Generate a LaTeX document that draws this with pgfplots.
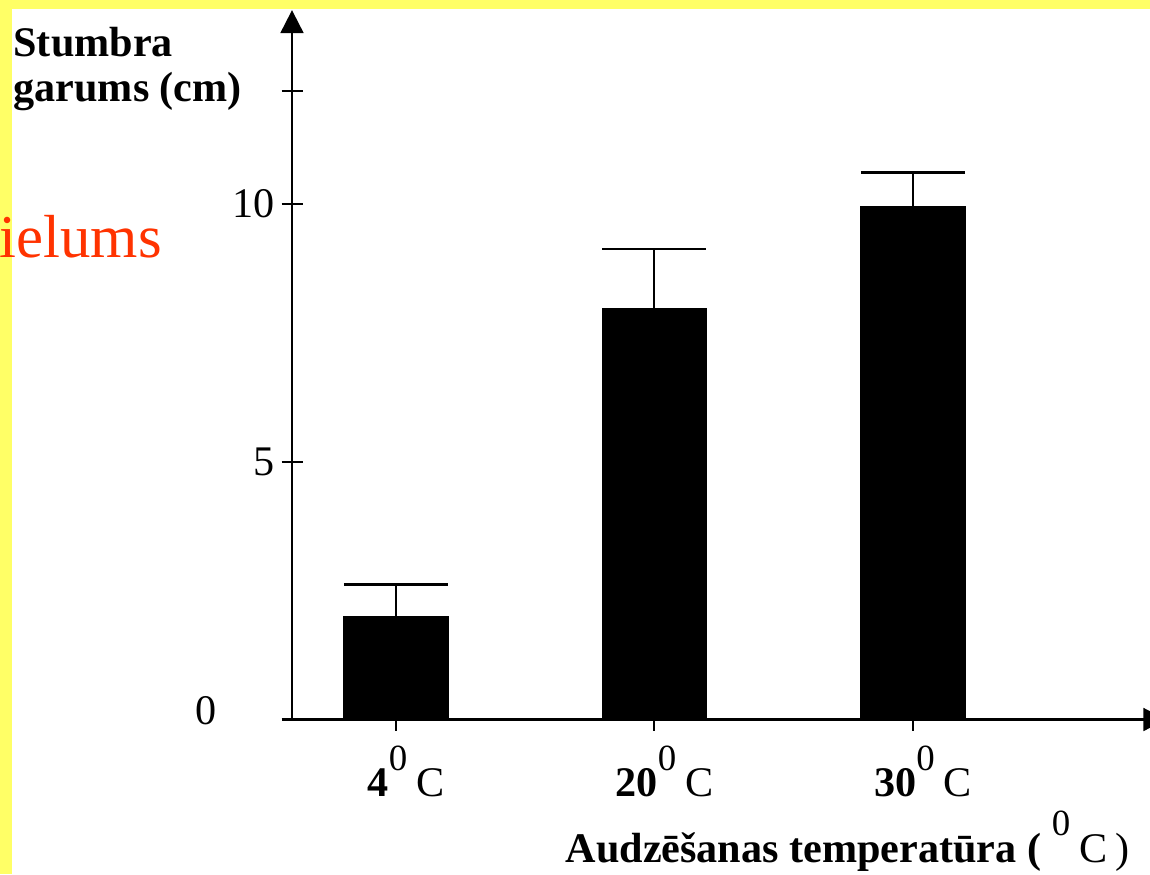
\documentclass[border=0pt]{standalone}
\usepackage{fontspec}
\setmainfont{Liberation Serif}
\usepackage{pgfplots}
\pgfplotsset{compat=1.18}
\usetikzlibrary{arrows.meta}

\definecolor{bandyellow}{RGB}{255,255,102}
\definecolor{redtext}{RGB}{255,51,0}
% superscript zero used for degrees
\newcommand{\grad}{\raisebox{7.4pt}{\fontsize{10.5}{11}\selectfont 0}\kern2.5pt C}

\begin{document}
\begin{tikzpicture}
\fill[white] (0,0) rectangle (11.5,8.74);
\useasboundingbox (0,0) rectangle (11.5,8.74);
\clip (0,0) rectangle (11.5,8.74);

\begin{axis}[
 at={(2.92cm,1.545cm)}, anchor=south west,
 scale only axis,
 x=2.585cm, y=0.5155cm,
 xmin=-0.402, xmax=2.98,
 ymin=0, ymax=13.76,
 axis lines=left,
 axis line style={line width=0.6pt, -{Triangle[width=6.5pt,length=6.5pt]}},
 every tick/.style={black, line width=0.6pt},
 xtick={0,1,2},
 xticklabels={{\bfseries 4}\grad, {\bfseries 20}\grad, {\bfseries 30}\grad},
 xtick align=outside,
 xtick style={/pgfplots/major tick length=0.11cm},
 xticklabel style={font=\fontsize{12}{14}\selectfont, anchor=base, inner sep=0pt, yshift=-0.62cm, xshift=0.1cm},
 ytick={5,10,12.2},
 yticklabels={5,10,},
 ytick align=center,
 ytick style={/pgfplots/major tick length=0.21cm},
 yticklabel style={font=\fontsize{12}{14}\selectfont, anchor=east, inner sep=0pt, xshift=-0.09cm},
 extra y ticks={0},
 extra y tick labels={0},
 extra y tick style={major tick length=0pt, yticklabel style={xshift=-0.66cm, yshift=0.09cm}},
 xlabel={\bfseries Audzēšanas temperatūra (\kern3pt\mdseries\grad\kern2.5pt)},
 xlabel style={at={(axis cs:0.654,-2.764)}, anchor=base west, inner sep=0pt, font=\fontsize{12}{14}\selectfont},
 ylabel={Stumbra\\garums (cm)},
 ylabel style={at={(axis cs:-1.482,13.45)}, anchor=north west, rotate=-90, inner sep=0pt, align=left, font=\fontsize{12}{13}\selectfont\bfseries},
]
\addplot[ybar, bar width=1.04cm, fill=black, draw=black,
 error bars/.cd, y dir=plus, y explicit, error mark=|,
 error bar style={line width=0.6pt, black},
 error mark options={mark size=0.52cm, line width=0.6pt, black}]
 coordinates {(0,2.0) +- (0,0.62) (1,7.97) +- (0,1.15) (2,9.94) +- (0,0.67)};
\end{axis}

\fill[bandyellow] (0,8.65) rectangle (11.5,8.74);
\fill[bandyellow] (0,0) rectangle (0.115,8.74);
\node[anchor=base west, inner sep=0pt, text=redtext, font=\fontsize{17.3}{20}\selectfont] at (-0.01,6.17) {ielums};
\end{tikzpicture}
\end{document}
